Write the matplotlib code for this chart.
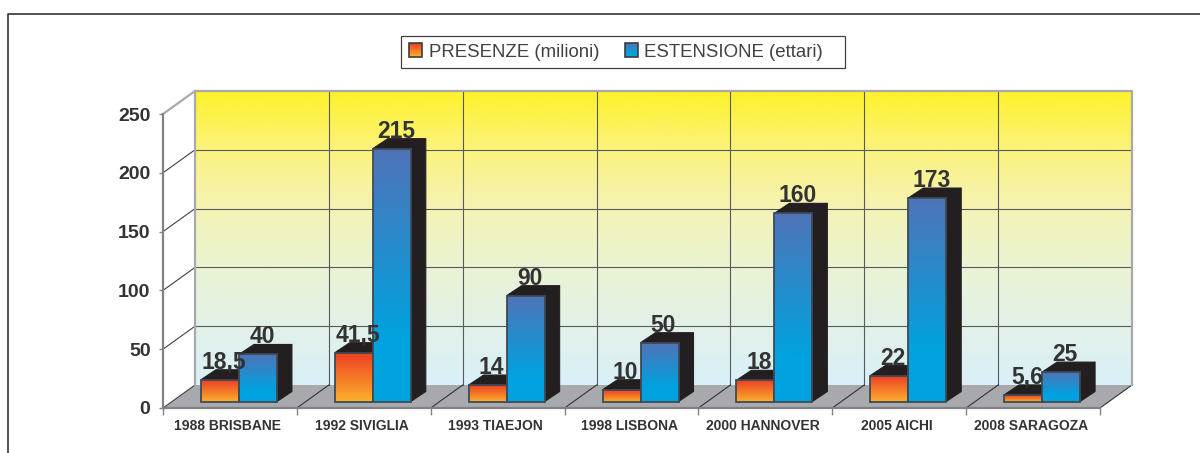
import numpy as np
import matplotlib
matplotlib.use('Agg')
import matplotlib.pyplot as plt
from matplotlib.colors import LinearSegmentedColormap
from matplotlib.legend_handler import HandlerPatch
from matplotlib.patches import Patch, Polygon, Rectangle
from matplotlib.transforms import ScaledTranslation

categories = ['1988 BRISBANE', '1992 SIVIGLIA', '1993 TIAEJON', '1998 LISBONA',
              '2000 HANNOVER', '2005 AICHI', '2008 SARAGOZA']
presenze = [18.5, 41.5, 14, 10, 18, 22, 5.6]
estensione = [40, 215, 90, 50, 160, 173, 25]
y_ticks = [0, 50, 100, 150, 200, 250]

plt.rcParams['font.family'] = ['Liberation Sans', 'DejaVu Sans']

W, H = 1200, 453
x0, x1 = 163, 1100   # front edge of the floor, in pixels
y0, y250 = 408, 114  # front axis, in pixels
px_x = 7 / (x1 - x0)
px_y = 250 / (y0 - y250)

wall_dx, wall_dy = 32 * px_x, 23 * px_y
bar_shift_x, bar_shift_y = 9 * px_x, 6.5 * px_y
bar_dx, bar_dy = 15 * px_x, 10 * px_y
bar_w = 38 * px_x

dark = '#231f20'
text_col = '#333333'
wall_cmap = LinearSegmentedColormap.from_list('wall', [
    (0, '#fff22a'), (0.2, '#fbf27e'), (0.4, '#f5f3b5'),
    (0.6, '#eaf3d3'), (0.8, '#e2f1e8'), (1, '#daf0f9')])
orange_cmap = LinearSegmentedColormap.from_list('o', [(0, '#ee4023'), (1, '#fbb02d')])
blue_cmap = LinearSegmentedColormap.from_list('b', [(0, '#4f74b8'), (0.75, '#00a2df'), (1, '#00a2df')])
ramp = np.linspace(0, 1, 256).reshape(-1, 1)


class GradientHandler(HandlerPatch):
    def create_artists(self, legend, orig, xd, yd, width, height, fontsize, trans):
        cmap = orig.get_gid()
        cmap = orange_cmap if cmap == 'o' else blue_cmap
        out = []
        n = 10
        for i in range(n):
            out.append(Rectangle((-xd, -yd + height * (n - 1 - i) / n), width, height / n,
                                 facecolor=cmap((i + 0.5) / n), edgecolor='none', transform=trans))
        out.append(Rectangle((-xd, -yd), width, height, facecolor='none',
                             edgecolor='#3d3d3d', linewidth=1.2, transform=trans))
        return out


fig = plt.figure(figsize=(W / 100, H / 100), dpi=100)
ax = fig.add_axes([x0 / W, 1 - y0 / H, (x1 - x0) / W, (y0 - y250) / H])
ax.set_xlim(0, 7)
ax.set_ylim(0, 250)

# back wall and floor
ax.imshow(ramp, cmap=wall_cmap, aspect='auto', zorder=1, clip_on=False,
          extent=(wall_dx, 7 + wall_dx, wall_dy, 250 + wall_dy))
ax.set_xlim(0, 7)
ax.set_ylim(0, 250)
ax.add_patch(Polygon([(0, 0), (7, 0), (7 + wall_dx, wall_dy), (wall_dx, wall_dy)],
                     facecolor='#a7a9ac', edgecolor='none', zorder=2, clip_on=False))

# grid on the walls
for v in y_ticks[1:-1]:
    ax.plot([wall_dx, 7 + wall_dx], [v + wall_dy] * 2, color='#58595b', lw=0.8, zorder=3, clip_on=False)
    ax.plot([0, wall_dx], [v, v + wall_dy], color='#414042', lw=0.8, zorder=3, clip_on=False)
for i in range(1, 7):
    ax.plot([i + wall_dx, i + wall_dx], [wall_dy, 250 + wall_dy], color='#58595b', lw=0.8, zorder=3, clip_on=False)
    ax.plot([i, i + wall_dx], [0, wall_dy], color='#333333', lw=0.8, zorder=3, clip_on=False)
ax.plot([0, wall_dx], [0, wall_dy], color='#414042', lw=0.8, zorder=3, clip_on=False)
ax.plot([7, 7 + wall_dx], [0, wall_dy], color='#333333', lw=0.8, zorder=3, clip_on=False)

# wall outline
ax.plot([0, wall_dx, 7 + wall_dx, 7 + wall_dx], [250, 250 + wall_dy, 250 + wall_dy, wall_dy],
        color='#a7a9ac', lw=1.6, zorder=3, clip_on=False)
ax.plot([wall_dx, wall_dx], [wall_dy, 250 + wall_dy], color='#a7a9ac', lw=1.6, zorder=3, clip_on=False)


def draw_bar(left, value, cmap, z):
    base = bar_shift_y
    top = base + value
    right = left + bar_w
    ax.add_patch(Polygon([(right, base), (right + bar_dx, base + bar_dy),
                          (right + bar_dx, top + bar_dy), (right, top)],
                         facecolor=dark, edgecolor=dark, lw=0.8, zorder=z, clip_on=False))
    ax.add_patch(Polygon([(left, top), (right, top), (right + bar_dx, top + bar_dy), (left + bar_dx, top + bar_dy)],
                         facecolor=dark, edgecolor=dark, lw=0.8, zorder=z, clip_on=False))
    ax.imshow(ramp, cmap=cmap, aspect='auto', zorder=z + 0.1, clip_on=False,
              extent=(left, right, base, top))
    ax.add_patch(Rectangle((left, base), bar_w, value, facecolor='none', edgecolor='#3d4a55',
                           lw=1.3, zorder=z + 0.2, clip_on=False))


for i in range(len(categories)):
    center = i + 0.5 + bar_shift_x
    draw_bar(center - bar_w, presenze[i], orange_cmap, 5 + i)
    draw_bar(center, estensione[i], blue_cmap, 5.5 + i)
    for left, val in ((center - bar_w, presenze[i]), (center, estensione[i])):
        label = str(val).replace('.', ',')
        ax.text(left + bar_w / 2 + 4 * px_x, bar_shift_y + val + bar_dy + 1 * px_y, label,
                ha='center', va='baseline', fontsize=16.5, fontweight='bold', color=text_col,
                zorder=20, clip_on=False)

ax.set_xlim(0, 7)
ax.set_ylim(0, 250)

# axes
ax.patch.set_visible(False)
for s in ('top', 'right'):
    ax.spines[s].set_visible(False)
for s in ('left', 'bottom'):
    ax.spines[s].set_color('#808285')
    ax.spines[s].set_linewidth(1.6)
    ax.spines[s].set_zorder(4)
ax.set_yticks(y_ticks)
ax.set_yticklabels([str(v) for v in y_ticks], fontsize=14, fontweight='bold', color=text_col)
ax.set_xticks(range(8))
ax.set_xticklabels([])
ax.set_xticks(np.arange(7) + 0.5, labels=categories, minor=True)
ax.tick_params(axis='y', length=3, width=1, color='#808285', pad=6)
ax.tick_params(axis='x', which='major', length=5, width=1, color='#808285')
ax.tick_params(axis='x', which='minor', length=0, pad=8, labelsize=10, labelcolor=text_col)
for t in ax.get_xticklabels(minor=True):
    t.set_fontweight('bold')
    t.set_transform(t.get_transform() + ScaledTranslation(-2 / 100, 0, fig.dpi_scale_trans))

# outer frame, runs off the picture on the right and bottom
fig.add_artist(plt.Line2D([8 / W, 8 / W, 1], [0, 1 - 13.5 / H, 1 - 13.5 / H], color='#222222', lw=1.1))

# legend box is drawn apart, the original has more room after the last label
fig.add_artist(Rectangle((400.5 / W, 1 - 67.5 / H), 444 / W, 31.5 / H, transform=fig.transFigure,
                         facecolor='white', edgecolor='#414042', lw=0.9))
o_patch = Patch(gid='o', label='PRESENZE (milioni)')
b_patch = Patch(gid='b', label='ESTENSIONE (ettari)')
leg = fig.legend(handles=[o_patch, b_patch], ncol=2, loc='center left',
                 bbox_to_anchor=(409 / W, 1 - 52 / H), fontsize=13.4, frameon=False,
                 labelcolor='#414042', handler_map={Patch: GradientHandler()},
                 handlelength=0.72, handleheight=0.72, handletextpad=0.35, columnspacing=1.35,
                 borderpad=0, borderaxespad=0)

fig.savefig('out.png', dpi=100)
